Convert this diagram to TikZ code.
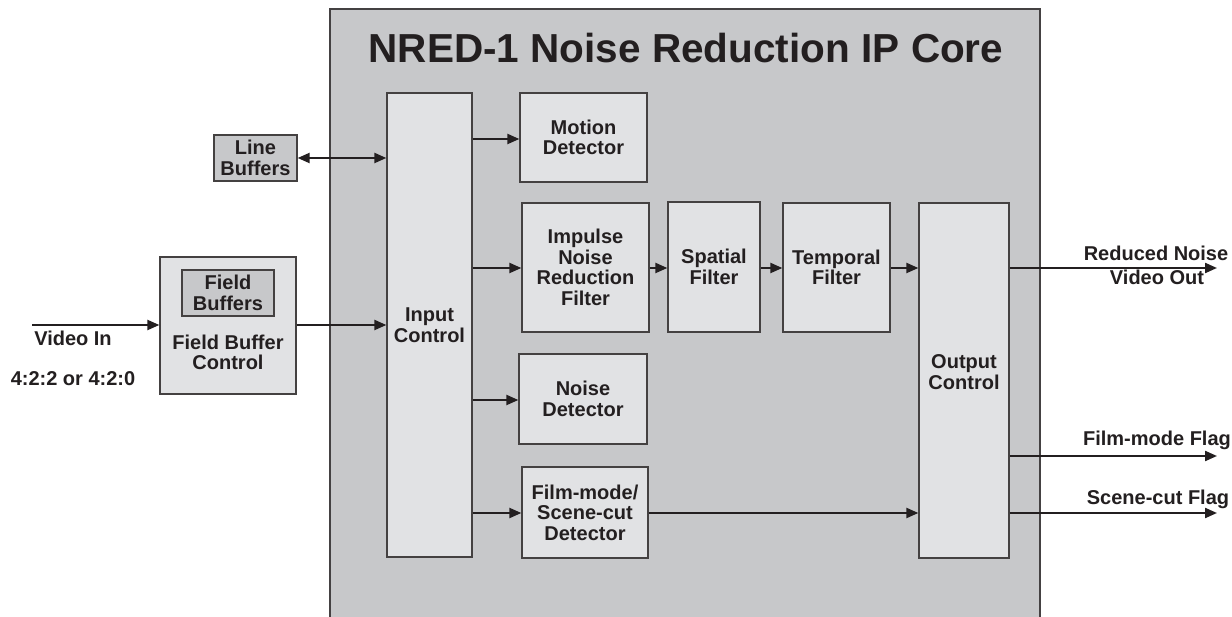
\documentclass[tikz,border=0pt]{standalone}
\usepackage{fontspec}
\setmainfont{Liberation Sans}
\usetikzlibrary{arrows.meta}
\definecolor{coregray}{HTML}{C7C8CA}
\definecolor{boxgray}{HTML}{E1E2E4}
\definecolor{ink}{HTML}{231F20}
\tikzset{
  blk/.style={draw=ink!85, line width=1.3pt, fill=boxgray, inner sep=0pt, align=center,
    font=\fontsize{20}{20.5}\selectfont\bfseries, text=ink},
  dblk/.style={blk, fill=coregray},
  lbl/.style={inner sep=0pt, align=center, font=\fontsize{20}{20.5}\selectfont\bfseries, text=ink},
  arr/.style={draw=ink, line width=2.2pt, -{Triangle[length=12pt,width=10pt]}},
  barr/.style={draw=ink, line width=2.2pt, {Triangle[length=12pt,width=10pt]}-{Triangle[length=12pt,width=10pt]}}
}
\begin{document}
\begin{tikzpicture}[x=1pt,y=-1pt]
\useasboundingbox (0,0) rectangle (1232,617);
% core
\fill[coregray] (330,9) rectangle (1040,617);
\draw[ink!85, line width=1.3pt] (330,617) -- (330,9) -- (1040,9) -- (1040,617);
\node[lbl, font=\fontsize{40.5}{42}\selectfont\bfseries] (title) at (686,48) {NRED-1 Noise Reduction IP Core};
% blocks
\node[blk, minimum width=85pt, minimum height=464pt] (ic) at (429.5,325) {Input\\Control};
\node[blk, minimum width=127pt, minimum height=89pt] (md) at (583.5,137.5) {Motion\\Detector};
\node[blk, minimum width=127pt, minimum height=129pt] (inr) at (585.5,267.5) {Impulse\\Noise\\Reduction\\Filter};
\node[blk, minimum width=92pt, minimum height=130pt] (sf) at (714,267) {Spatial\\Filter};
\node[blk, minimum width=107pt, minimum height=129pt] (tf) at (836.5,267.5) {Temporal\\Filter};
\node[blk, minimum width=90pt, minimum height=355pt] (oc) at (964,380.5) {};
\node[lbl] (octext) at (964,372) {Output\\Control};
\node[blk, minimum width=128pt, minimum height=90pt] (nd) at (583,399) {Noise\\Detector};
\node[blk, minimum width=126pt, minimum height=91pt] (fd) at (585,512.5) {Film-mode/\\Scene-cut\\Detector};
\node[dblk, minimum width=83pt, minimum height=46pt] (lb) at (255.5,158) {Line\\Buffers};
\node[blk, minimum width=136pt, minimum height=137pt] (fbc) at (228,325.5) {};
\node[lbl] (fbctext) at (228,352.5) {Field Buffer\\Control};
\node[dblk, minimum width=92pt, minimum height=46pt] (fb) at (228,293) {Field\\Buffers};
% coordinates
\coordinate (vin) at (32,325);
\coordinate (out1) at (1217,268);
\coordinate (out2) at (1217,456);
\coordinate (out3) at (1217,513);
% arrows
\draw[barr] (lb.east) -- (lb.east -| ic.west);
\draw[arr] (vin) -- (vin -| fbc.west);
\draw[arr] (vin -| fbc.east) -- (vin -| ic.west);
\draw[arr] (ic.east |- 0,139) -- (md.west |- 0,139);
\draw[arr] (ic.east |- 0,268) -- (inr.west |- 0,268);
\draw[arr] (inr.east |- 0,268) -- (sf.west |- 0,268);
\draw[arr] (sf.east |- 0,268) -- (tf.west |- 0,268);
\draw[arr] (tf.east |- 0,268) -- (oc.west |- 0,268);
\draw[arr] (ic.east |- 0,400) -- (nd.west |- 0,400);
\draw[arr] (ic.east |- 0,513) -- (fd.west |- 0,513);
\draw[arr] (fd.east |- 0,513) -- (oc.west |- 0,513);
\draw[arr] (oc.east |- out1) -- (out1);
\draw[arr] (oc.east |- out2) -- (out2);
\draw[arr] (oc.east |- out3) -- (out3);
% labels
\node[lbl] (vinl) at (73,338) {Video In};
\node[lbl] (fmt) at (73,379) {4:2:2 or 4:2:0};
\node[lbl] (o1a) at (1156,253) {Reduced Noise};
\node[lbl] (o1b) at (1157,277) {Video Out};
\node[lbl] (o2) at (1157,440) {Film-mode Flag};
\node[lbl] (o3) at (1158,499) {Scene-cut Flag};
\end{tikzpicture}
\end{document}
